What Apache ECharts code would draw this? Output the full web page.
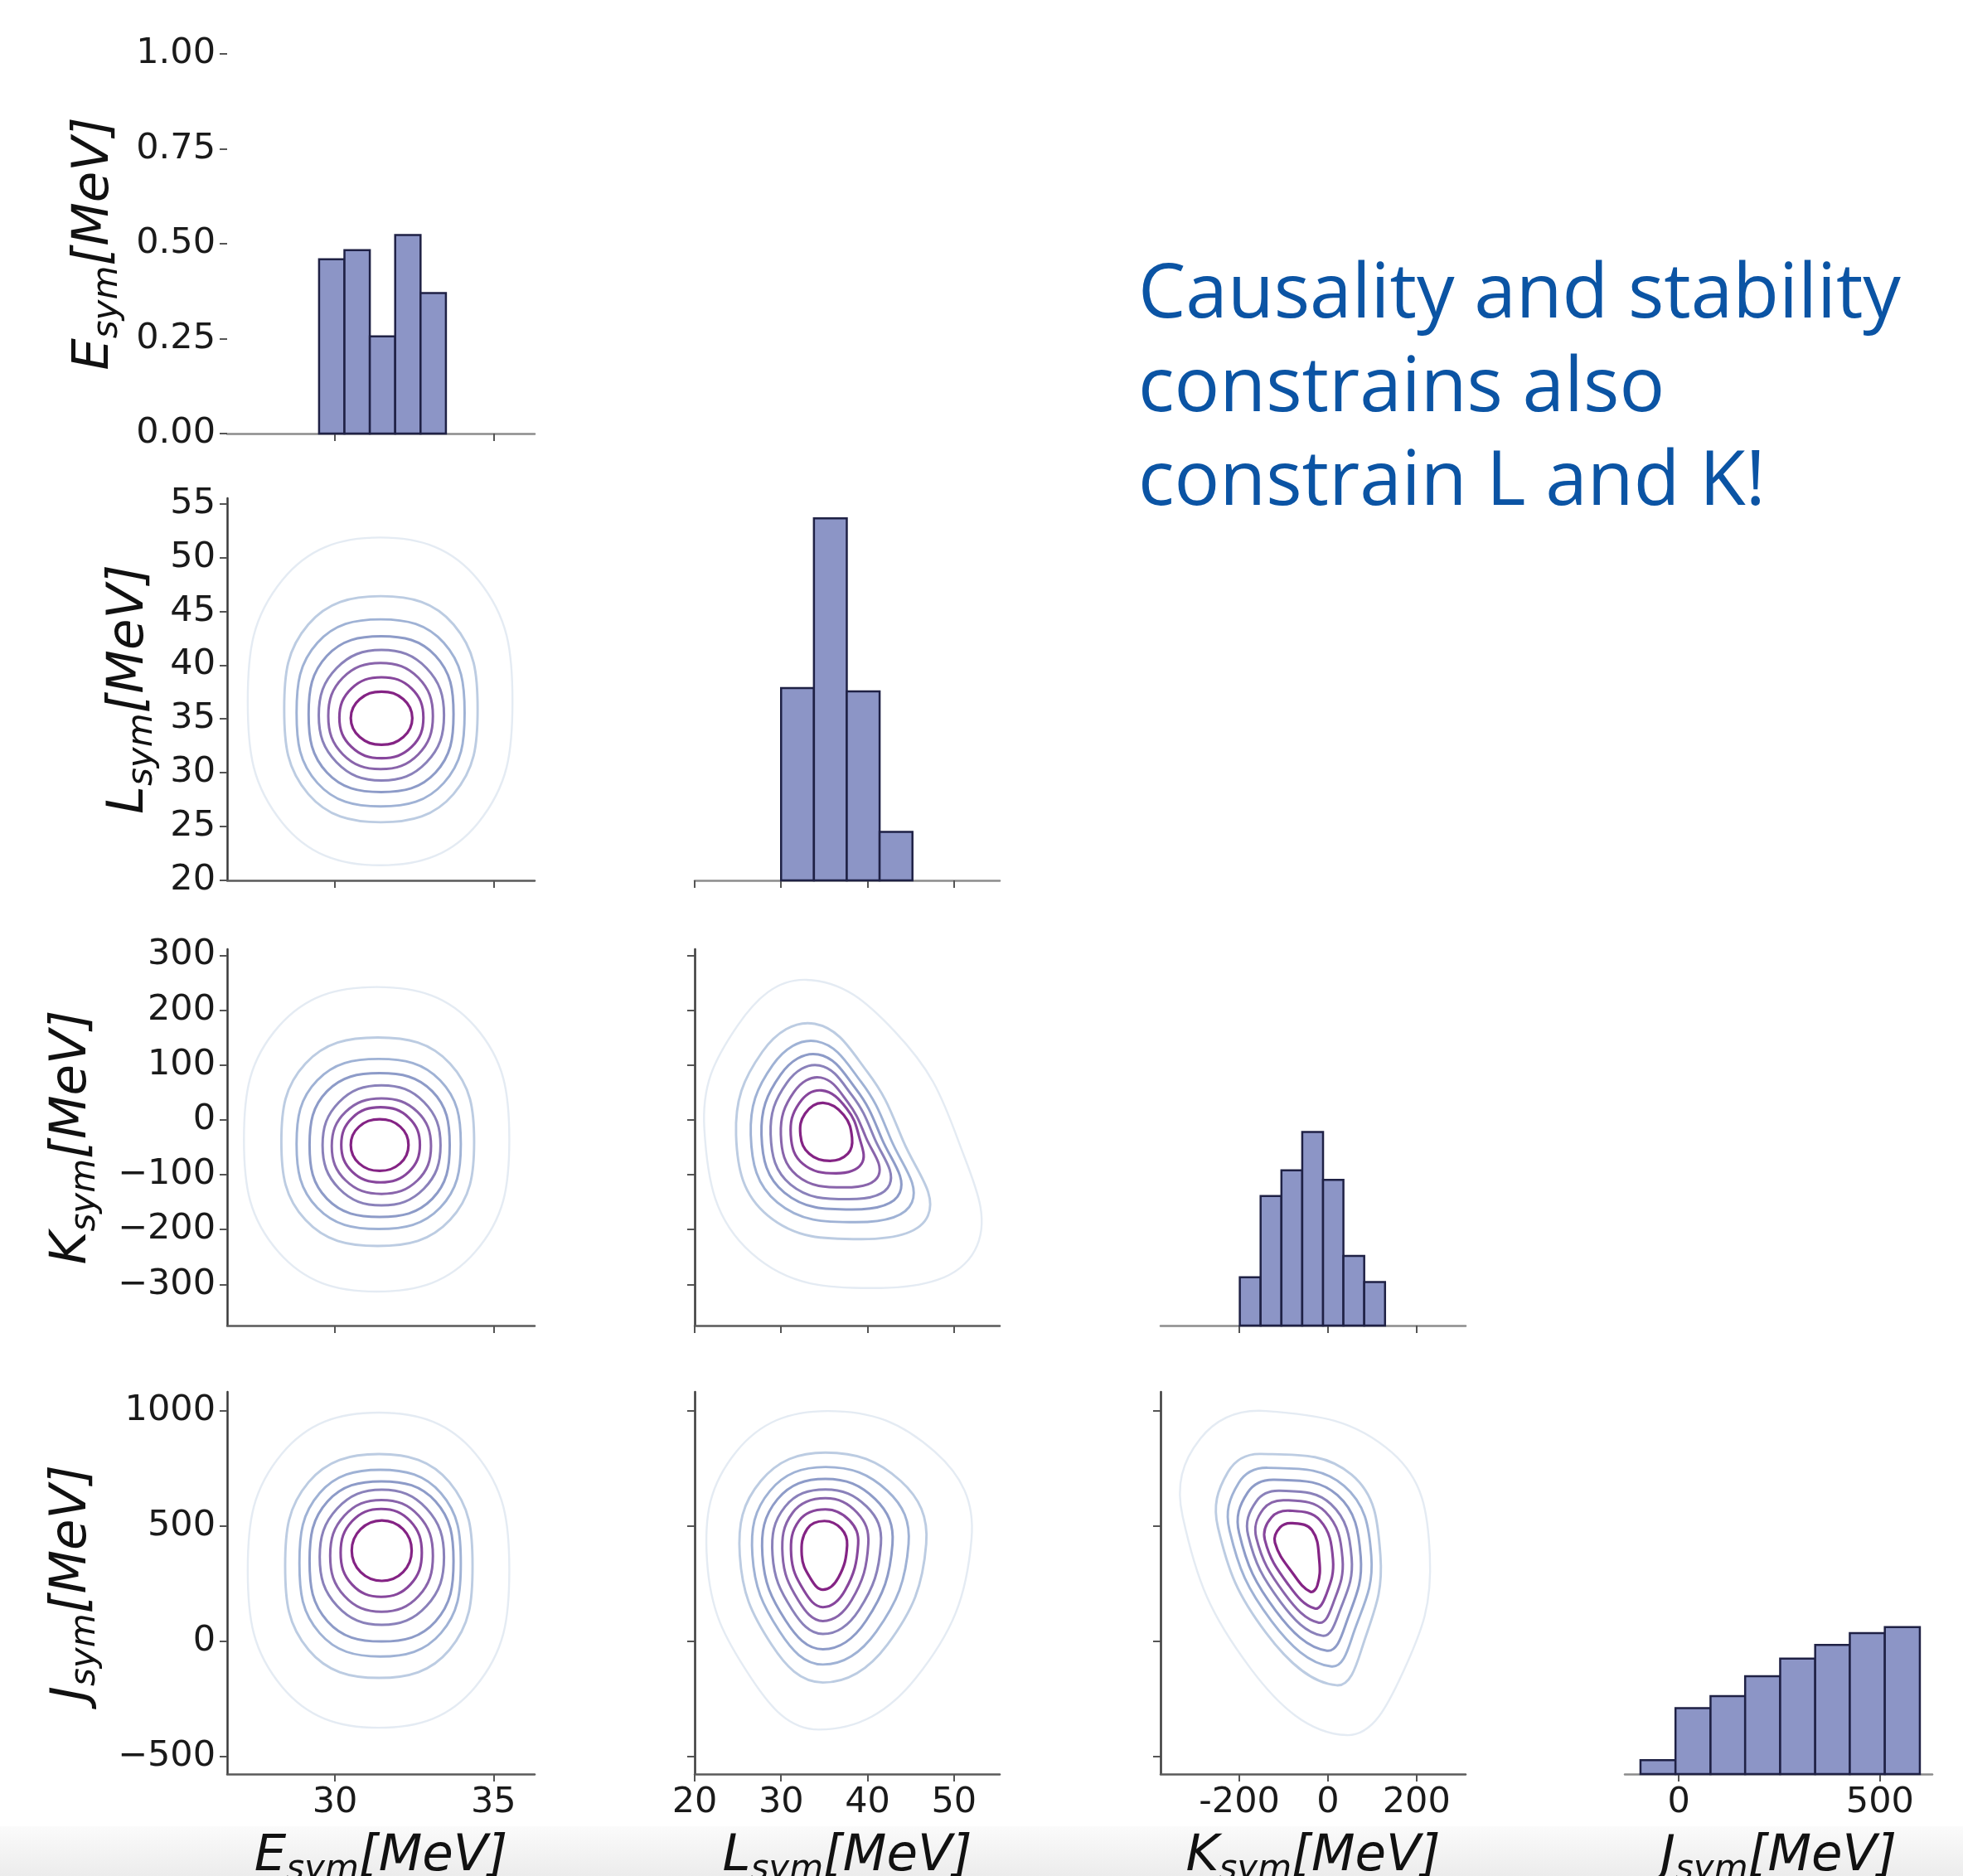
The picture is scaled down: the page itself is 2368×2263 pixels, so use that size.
<!DOCTYPE html>
<html>
<head>
<meta charset="utf-8">
<script src="https://cdn.jsdelivr.net/npm/echarts@6/dist/echarts.min.js"></script>
<style>
html,body{margin:0;padding:0;background:#fff;}
#chart{width:2368px;height:2263px;}
</style>
</head>
<body>
<div id="chart"></div>
<script>
// ---------------- DATA ----------------
// diagonal histograms: bin edges and heights (density)
const eEdges = [29.5, 30.3, 31.1, 31.9, 32.7, 33.5];
const eHeights = [0.459, 0.483, 0.256, 0.523, 0.370];
const lEdges = [30, 33.8, 37.6, 41.4, 45.2];
const lHeights = [0.0639, 0.1203, 0.0628, 0.0161];
const kEdges = [-199, -152, -105, -58, -11, 35, 82, 129];
const kHeights = [0.00132, 0.00354, 0.00424, 0.00529, 0.00398, 0.00190, 0.00119];
const jEdges = [-95, -8, 79, 165, 252, 339, 425, 512, 599];
const jHeights = [0.000202, 0.000963, 0.00114, 0.00143, 0.00169, 0.00189, 0.00206, 0.00215];

// tick values and labels
const eTicks = [30, 35];            const eTickLabels = ['30', '35'];
const lTicks = [20, 30, 40, 50];    const lTickLabels = ['20', '30', '40', '50'];
const kTicks = [-200, 0, 200];      const kTickLabels = ['-200', '0', '200'];
const jTicks = [0, 500];            const jTickLabels = ['0', '500'];
const densTicks = [0, 0.25, 0.5, 0.75, 1.0];
const densTickLabels = ['0.00', '0.25', '0.50', '0.75', '1.00'];
const lRowTicks = [20, 25, 30, 35, 40, 45, 50, 55];
const lRowTickLabels = ['20', '25', '30', '35', '40', '45', '50', '55'];
const kRowTicks = [-300, -200, -100, 0, 100, 200, 300];
const kRowTickLabels = ['\u2212300', '\u2212200', '\u2212100', '0', '100', '200', '300'];
const jRowTicks = [-500, 0, 500, 1000];
const jRowTickLabels = ['\u2212500', '0', '500', '1000'];

// KDE contour outlines, 8 points each (N, NE, E, SE, S, SW, W, NW), outermost level first
const contoursEL = [
  [31.43,51.85, 34.52,47.9, 35.6,36.63, 34.52,25.36, 31.43,21.4, 28.34,25.36, 27.25,36.63, 28.34,47.9],
  [31.45,46.4, 33.74,43.78, 34.5,35.9, 33.74,28.02, 31.45,25.4, 29.16,28.02, 28.4,35.9, 29.16,43.78],
  [31.44,44.25, 33.43,42.08, 34.09,35.56, 33.43,29.04, 31.44,26.87, 29.45,29.04, 28.79,35.56, 29.45,42.08],
  [31.46,42.68, 33.17,40.87, 33.74,35.44, 33.17,30.01, 31.46,28.2, 29.75,30.01, 29.17,35.44, 29.75,40.87],
  [31.47,41.4, 32.89,39.71, 33.44,35.34, 32.89,30.97, 31.47,29.27, 30.05,30.97, 29.49,35.34, 30.05,39.71],
  [31.44,40.2, 32.63,38.83, 33.09,35.27, 32.63,31.71, 31.44,30.33, 30.25,31.71, 29.79,35.27, 30.25,38.83],
  [31.47,38.87, 32.42,37.82, 32.79,35.11, 32.42,32.4, 31.47,31.35, 30.52,32.4, 30.14,35.11, 30.52,37.82],
  [31.47,37.53, 32.16,36.82, 32.44,35.07, 32.16,33.32, 31.47,32.6, 30.78,33.32, 30.5,35.07, 30.78,36.82]
];
const contoursEK = [
  [31.32,242, 34.42,169.9, 35.5,-36, 34.42,-240.9, 31.32,-313, 28.22,-240.9, 27.13,-36, 28.22,169.9],
  [31.35,150, 33.63,102.5, 34.39,-40, 33.63,-182.5, 31.35,-230, 29.07,-182.5, 28.31,-40, 29.07,102.5],
  [31.38,111, 33.32,72, 33.97,-44, 33.32,-160, 31.38,-199, 29.44,-160, 28.79,-44, 29.44,72],
  [31.41,85, 33.07,52, 33.62,-46, 33.07,-144, 31.41,-177, 29.75,-144, 29.2,-46, 29.75,52],
  [31.47,63, 32.81,32.3, 33.33,-46.5, 32.81,-125.3, 31.47,-156, 30.13,-125.3, 29.61,-46.5, 30.13,32.3],
  [31.47,39, 32.6,14.6, 33.03,-48, 32.6,-110.6, 31.47,-135, 30.34,-110.6, 29.9,-48, 30.34,14.6],
  [31.44,23, 32.33,3.8, 32.68,-45.5, 32.33,-94.8, 31.44,-114, 30.55,-94.8, 30.2,-45.5, 30.55,3.8],
  [31.41,1, 32.06,-12.6, 32.32,-46, 32.06,-79.4, 31.41,-93, 30.76,-79.4, 30.5,-46, 30.76,-12.6]
];
const contoursEJ = [
  [31.38,993, 34.43,815.3, 35.5,310, 34.43,-196.3, 31.38,-374, 28.33,-196.3, 27.25,310, 28.33,815.3],
  [31.39,813, 33.61,691.5, 34.34,328, 33.61,-36.5, 31.39,-158, 29.17,-36.5, 28.43,328, 29.17,691.5],
  [31.43,745, 33.34,644, 33.97,340, 33.34,36, 31.43,-65, 29.52,36, 28.88,340, 29.52,644],
  [31.47,695, 33.17,608, 33.74,348, 33.17,87, 31.47,0, 29.77,87, 29.2,348, 29.77,608],
  [31.48,659, 32.89,576.8, 33.44,366, 32.89,154.2, 31.48,72, 30.07,154.2, 29.52,366, 30.07,576.8],
  [31.47,614, 32.64,546, 33.09,372, 32.64,197, 31.47,129, 30.3,197, 29.85,372, 30.3,546],
  [31.46,575, 32.38,521.7, 32.74,385, 32.38,247.3, 31.46,194, 30.54,247.3, 30.18,385, 30.54,521.7],
  [31.48,525, 32.15,487, 32.42,394, 32.15,301, 31.48,263, 30.81,301, 30.53,394, 30.81,487]
];
const contoursLK = [
  [32.94,255.2, 43.16,160.9, 50.51,-38.3, 52.43,-237.4, 41.57,-306.6, 26.55,-242.7, 21.12,-17.3, 24.95,171.4],
  [33.9,175, 39.97,87.5, 44.12,-38.3, 47.0,-174.5, 39.33,-217.5, 28.47,-174.5, 24.79,-27.8, 27.83,124],
  [34.12,143.1, 39.23,69.7, 42.72,-36.2, 45.14,-150.4, 38.69,-186.6, 29.55,-150.4, 26.49,-27.3, 29.04,100.1],
  [34.31,119, 38.66,56.1, 41.66,-34.6, 43.74,-132.6, 38.21,-163.5, 30.38,-132.6, 27.73,-27.3, 29.94,82.3],
  [34.44,99.1, 38.21,44.5, 40.8,-33.5, 42.56,-117.9, 37.83,-144.7, 31.09,-117.9, 28.79,-26.7, 30.67,67.6],
  [34.6,77, 37.7,32.5, 39.81,-32, 41.28,-101.2, 37.38,-123.2, 31.82,-101.2, 29.97,-26.7, 31.5,50.8],
  [34.7,53.5, 37.57,21, 39.07,-33, 39.3,-80.2, 36.36,-97.5, 32.52,-80.2, 31.12,-27.8, 32.08,29.9],
  [34.86,30.9, 37.25,8.9, 38.21,-33, 37.73,-61.8, 35.66,-74.9, 33.26,-61.8, 32.24,-27.8, 32.78,11.5]
];
const contoursLJ = [
  [35.42,1000, 47.78,823.3, 52.04,447.1, 45.57,-159.9, 34.37,-382.2, 26.56,-159.9, 21.43,351, 24.81,823.3],
  [35.13,819.7, 43.82,697.1, 46.79,423.1, 42.3,-13.2, 34.84,-177.9, 28.89,-13.2, 25.22,375, 27.67,697.1],
  [35.13,757.2, 42.3,653.8, 44.75,423.1, 41.02,43.3, 34.84,-99.8, 29.83,43.3, 26.68,375, 28.72,653.8],
  [35.13,705.5, 40.9,617.8, 42.89,423.1, 39.85,91.3, 34.84,-33.7, 30.52,91.3, 27.84,375, 29.59,617.8],
  [35.13,659.8, 39.91,585.3, 41.55,423.1, 39.04,138.2, 34.84,32.5, 31.28,138.2, 29.01,375, 30.47,585.3],
  [35.13,621.4, 38.8,558.9, 40.09,423.1, 38.16,179.1, 34.84,88.9, 31.98,179.1, 30.17,375, 31.34,558.9],
  [35.13,573.3, 37.93,525.2, 38.92,423.1, 37.41,222.4, 34.84,149, 32.62,222.4, 31.17,375, 32.1,525.2],
  [35.01,522.8, 36.97,489.2, 37.64,417, 36.62,276.4, 34.84,224.8, 33.36,276.4, 32.39,375, 33.03,489.2]
];
const contoursKJ = [
  [-140.2,1000, 144.7,819.7, 230.2,375, 167.5,-141.8, 42.2,-406.2, -174.4,-117.8, -328.2,543.3, -288.3,879.8],
  [-151.6,813.7, 53.6,723.5, 118.5,375, 82.1,2.4, 19.4,-189.9, -140.2,38.5, -248.4,495.2, -225.6,735.6],
  [-135.6,753.6, 36.5,675.5, 98,370.2, 60.4,50.5, 8,-108.2, -127.6,88.9, -222.2,482, -201.7,687.5],
  [-120.8,701.9, 21.7,634.6, 74.1,366.6, 43.3,91.3, -2.3,-39.7, -117.4,132.2, -200.6,471.1, -181.2,646.6],
  [-108.3,653.8, 6.8,596.1, 53.6,361.8, 26.2,129.8, -12.5,25.2, -107.1,171.9, -180.1,460.3, -161.8,608.2],
  [-96.9,613, -5.7,562.5, 33,359.4, 11.4,163.5, -20.5,81.7, -98,207.9, -161.8,450.7, -145.9,574.5],
  [-86,567.3, -18.2,526.4, 11.4,355.8, -4.6,199.5, -29.6,143, -88.9,245.2, -142.5,441.1, -127.6,538.5],
  [-80,513.2, -36,483.2, -19.4,351, -23.9,242.8, -39.9,216.3, -77.5,290.9, -119.7,429.1, -108,495.2]
];

const annotation = 'Causality and stability\nconstrains also\nconstrain L and K!';
const varLetters = ['E', 'L', 'K', 'J'];

// ---------------- STYLE / LAYOUT ----------------
const FONT = '"DejaVu Sans", sans-serif';
const levelColors = ['#e4ebf3', '#bccce2', '#9fb2d5', '#8d9bc8', '#8a81ba', '#8964ab', '#87469c', '#842384'];
const levelWidths = [2.4, 2.9, 2.9, 3.0, 3.0, 3.0, 3.1, 3.2];

const colLeft = [274, 838, 1400, 1960];
const colWidth = [371, 368, 368, 371];
const rowTop = [65, 601, 1145, 1679];
const rowHeight = [458, 461, 454, 461];

const colRange = [[26.6, 36.3], [20, 55.3], [-378, 311], [-134, 630]];
const rowRange = [[0, 1.0], [20, 55.5], [-375, 311], [-575, 1083]];
const histMax = [1.0, 0.127, 0.01028, 0.00559];
const colTicks = [eTicks, lTicks, kTicks, jTicks];
const colTickLabels = [eTickLabels, lTickLabels, kTickLabels, jTickLabels];
const rowTicks = [densTicks, lRowTicks, kRowTicks, jRowTicks];
const rowTickLabelsArr = [densTickLabels, lRowTickLabels, kRowTickLabels, jRowTickLabels];
const yNameGap = [123, 81, 150, 150];

function fmt(ticks, labels) {
  return function (v) {
    for (let i = 0; i < ticks.length; i++) if (Math.abs(ticks[i] - v) < 1e-9) return labels[i];
    return '';
  };
}
function richName(letter) { return '{m|' + letter + '}{s|sym}{m|[MeV]}'; }
const nameStyle = {
  fontFamily: FONT, fontStyle: 'italic', fontSize: 61, color: '#111',
  rich: {
    m: { fontFamily: FONT, fontStyle: 'italic', fontSize: 61, color: '#111' },
    s: { fontFamily: FONT, fontStyle: 'italic', fontSize: 42, color: '#111', padding: [32, 0, 0, 0] }
  }
};
const labelStyle = { fontFamily: FONT, fontSize: 43, color: '#1a1a1a' };

const layout = [[0,0],[1,0],[1,1],[2,0],[2,1],[2,2],[3,0],[3,1],[3,2],[3,3]];
const grids = [], xAxes = [], yAxes = [], series = [];

layout.forEach(function (rc, g) {
  const r = rc[0], c = rc[1];
  const diag = r === c;
  grids.push({ left: colLeft[c], top: rowTop[r], width: colWidth[c], height: rowHeight[r],
               containLabel: false, outerBoundsMode: 'none', show: false });
  xAxes.push({
    type: 'value', gridIndex: g, min: colRange[c][0], max: colRange[c][1],
    splitLine: { show: false },
    axisLine: { show: true, onZero: false, lineStyle: { color: diag ? '#8c8c8c' : '#5a5a5a', width: 2.5 } },
    axisTick: { show: true, inside: false, length: 9, customValues: colTicks[c], lineStyle: { color: '#555', width: 2 } },
    axisLabel: Object.assign({ show: r === 3, margin: 13, customValues: colTicks[c],
                 formatter: fmt(colTicks[c], colTickLabels[c]) }, labelStyle),
    name: r === 3 ? richName(varLetters[c]) : '',
    nameLocation: 'middle', nameGap: 63, nameMoveOverlap: false,
    nameTextStyle: nameStyle
  });
  if (diag && r > 0) {
    yAxes.push({ type: 'value', gridIndex: g, min: 0, max: histMax[r], show: false, splitLine: { show: false } });
  } else {
    yAxes.push({
      type: 'value', gridIndex: g, min: rowRange[r][0], max: rowRange[r][1],
      splitLine: { show: false },
      axisLine: { show: !diag, onZero: false, lineStyle: { color: '#3a3a3a', width: 2.5 } },
      axisTick: { show: true, inside: false, length: 9, customValues: rowTicks[r], lineStyle: { color: '#555', width: 2 } },
      axisLabel: Object.assign({ show: c === 0, margin: 14, customValues: rowTicks[r],
                   formatter: fmt(rowTicks[r], rowTickLabelsArr[r]) }, labelStyle),
      name: c === 0 ? richName(varLetters[r]) : '',
      nameLocation: 'middle', nameGap: yNameGap[r], nameMoveOverlap: false,
      nameTextStyle: nameStyle
    });
  }
});

function histData(edges, heights) {
  return heights.map(function (h, i) { return [edges[i], edges[i + 1], h]; });
}
function histRender(params, api) {
  const p0 = api.coord([api.value(0), api.value(2)]);
  const p1 = api.coord([api.value(1), 0]);
  return {
    type: 'rect',
    shape: { x: p0[0], y: p0[1], width: p1[0] - p0[0], height: p1[1] - p0[1] },
    style: { fill: '#8c95c6', stroke: '#1f2145', lineWidth: 2.5 }
  };
}
function addHist(g, edges, heights) {
  series.push({
    type: 'custom', xAxisIndex: g, yAxisIndex: g,
    dimensions: ['x0', 'x1', 'h'], encode: { x: [0, 1], y: 2 },
    renderItem: histRender, data: histData(edges, heights), silent: true
  });
}
const cDims = [], cx = [], cy = [];
for (let i = 0; i < 8; i++) { cDims.push('x' + i, 'y' + i); cx.push(2 * i); cy.push(2 * i + 1); }
function contourRender(params, api) {
  const pts = [];
  for (let i = 0; i < 8; i++) pts.push(api.coord([api.value(2 * i), api.value(2 * i + 1)]));
  const lv = params.dataIndex;
  return {
    type: 'polygon',
    shape: { points: pts, smooth: 0.42 },
    style: { fill: 'none', stroke: levelColors[lv], lineWidth: levelWidths[lv] }
  };
}
function addContours(g, contours) {
  series.push({
    type: 'custom', xAxisIndex: g, yAxisIndex: g,
    dimensions: cDims, encode: { x: cx, y: cy },
    renderItem: contourRender, data: contours, silent: true
  });
}

addHist(0, eEdges, eHeights);
addContours(1, contoursEL);
addHist(2, lEdges, lHeights);
addContours(3, contoursEK);
addContours(4, contoursLK);
addHist(5, kEdges, kHeights);
addContours(6, contoursEJ);
addContours(7, contoursLJ);
addContours(8, contoursKJ);
addHist(9, jEdges, jHeights);

const chart = echarts.init(document.getElementById('chart'), null, { renderer: 'canvas' });
chart.setOption({
  animation: false,
  backgroundColor: '#ffffff',
  grid: grids,
  xAxis: xAxes,
  yAxis: yAxes,
  series: series,
  graphic: [
    {
      type: 'rect', z: -10, silent: true,
      shape: { x: 0, y: 2203, width: 2368, height: 60 },
      style: { fill: { type: 'linear', x: 0, y: 0, x2: 0, y2: 1,
               colorStops: [{ offset: 0, color: '#fbfbfb' }, { offset: 1, color: '#ececec' }] } }
    },
    {
      type: 'text', left: 1373, top: 301, silent: true,
      style: { text: annotation, font: '91px "Open Sans", sans-serif', fill: '#0b54a4', lineHeight: 113 }
    }
  ]
});
</script>
</body>
</html>
